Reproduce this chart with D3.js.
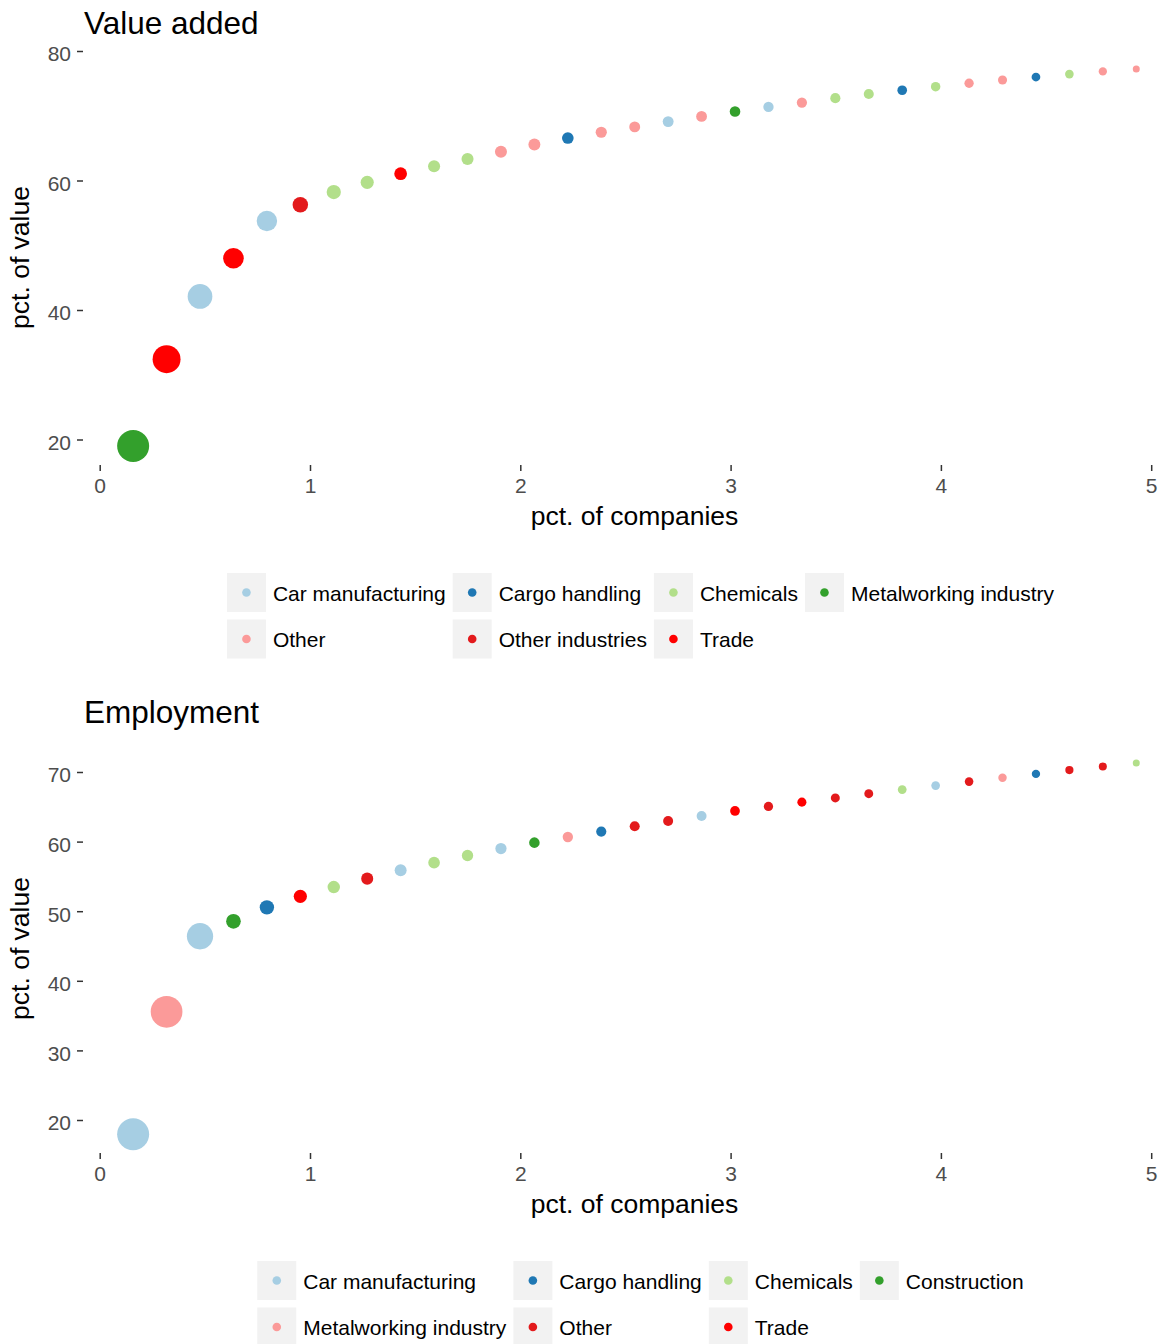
<!DOCTYPE html>
<html>
<head>
<meta charset="utf-8">
<script src="https://cdn.jsdelivr.net/npm/d3@7"></script>
<style>
  html, body { margin: 0; padding: 0; background: #ffffff; }
  svg { display: block; font-family: "Liberation Sans", Arial, sans-serif; }
</style>
</head>
<body>
<svg id="chart" width="1165" height="1344"></svg>
<script>
// ---------- DATA ----------
const pctCompanies = [0.159, 0.318, 0.477, 0.636, 0.795, 0.954, 1.113, 1.272, 1.431, 1.590,
  1.749, 1.908, 2.067, 2.226, 2.385, 2.544, 2.703, 2.862, 3.021, 3.180,
  3.339, 3.498, 3.657, 3.816, 3.975, 4.134, 4.293, 4.452, 4.611, 4.770, 4.929];

// cumulative pct. of value added
const valueAddedCum = [19.0, 32.4, 42.1, 48.0, 53.75, 56.27, 58.22, 59.72, 61.06, 62.2,
  63.33, 64.45, 65.55, 66.56, 67.45, 68.28, 69.1, 69.9, 70.66, 71.36,
  72.04, 72.71, 73.36, 73.94, 74.49, 75.02, 75.52, 75.98, 76.43, 76.85, 77.22];
const valueAddedSector = ["Metalworking industry", "Trade", "Car manufacturing", "Trade", "Car manufacturing",
  "Other industries", "Chemicals", "Chemicals", "Trade", "Chemicals",
  "Chemicals", "Other", "Other", "Cargo handling", "Other",
  "Other", "Car manufacturing", "Other", "Metalworking industry", "Car manufacturing",
  "Other", "Chemicals", "Chemicals", "Cargo handling", "Chemicals",
  "Other", "Other", "Cargo handling", "Chemicals", "Other", "Other"];
const valueAddedLegend = ["Car manufacturing", "Cargo handling", "Chemicals", "Metalworking industry",
  "Other", "Other industries", "Trade"];
const valueAddedYTicks = [20, 40, 60, 80];

// cumulative pct. of employment
const employmentCum = [17.95, 35.54, 46.4, 48.55, 50.56, 52.14, 53.47, 54.68, 55.87, 56.97,
  58.0, 59.0, 59.85, 60.66, 61.44, 62.2, 62.95, 63.69, 64.4, 65.05,
  65.67, 66.28, 66.88, 67.47, 68.05, 68.62, 69.18, 69.73, 70.27, 70.8, 71.3];
const employmentSector = ["Car manufacturing", "Metalworking industry", "Car manufacturing", "Construction", "Cargo handling",
  "Trade", "Chemicals", "Other", "Car manufacturing", "Chemicals",
  "Chemicals", "Car manufacturing", "Construction", "Metalworking industry", "Cargo handling",
  "Other", "Other", "Car manufacturing", "Trade", "Other",
  "Trade", "Other", "Other", "Chemicals", "Car manufacturing",
  "Other", "Metalworking industry", "Cargo handling", "Other", "Other", "Chemicals"];
const employmentLegend = ["Car manufacturing", "Cargo handling", "Chemicals", "Construction",
  "Metalworking industry", "Other", "Trade"];
const employmentYTicks = [20, 30, 40, 50, 60, 70];

const xTicks = [0, 1, 2, 3, 4, 5];

// ---------- STYLE ----------
const palette = ["#A6CEE3", "#1F78B4", "#B2DF8A", "#33A02C", "#FB9A99", "#E31A1C", "#FF0000"];

const svg = d3.select("#chart");
const x = d3.scaleLinear().domain([0, 5]).range([99.7, 1151.2]);

function panel(cfg) {
  const g = svg.append("g");
  const y = d3.scaleLinear().domain(cfg.yDomain).range(cfg.yRange);
  const color = d3.scaleOrdinal().domain(cfg.legend).range(palette);

  // share of each company = increment of cumulative curve
  const data = cfg.cum.map((v, i) => ({
    x: pctCompanies[i], y: v,
    share: v - (i === 0 ? 0 : cfg.cum[i - 1]),
    sector: cfg.sector[i]
  }));
  const norm = d3.scaleLinear().domain(d3.extent(data, d => d.share)).range([0, 1]);
  const rScale = d3.scaleLinear().domain([0, 1]).range([3.5, 16]);

  // title
  g.append("text").attr("x", 84).attr("y", cfg.titleY)
    .attr("font-size", 31.5).attr("fill", "#000").text(cfg.title);

  // axes
  const xAxis = d3.axisBottom(x).tickValues(xTicks).tickSize(6).tickPadding(7).tickFormat(d3.format("d"));
  const gx = g.append("g").attr("transform", `translate(0,${cfg.panelBottom})`).call(xAxis);
  const yAxis = d3.axisLeft(y).tickValues(cfg.yTicks).tickSize(6).tickPadding(6).tickFormat(d3.format("d"));
  const gy = g.append("g").attr("transform", `translate(83,0)`).call(yAxis);
  [gx, gy].forEach(a => {
    a.select(".domain").remove();
    a.selectAll(".tick line").attr("stroke", "#333333").attr("stroke-width", 1.5);
    a.selectAll(".tick text").attr("fill", "#4D4D4D").attr("font-size", 21)
      .attr("font-family", "Liberation Sans, Arial, sans-serif");
  });
  gy.selectAll(".tick text").attr("dy", "0.47em");

  // axis titles
  g.append("text").attr("x", 634.5).attr("y", cfg.xTitleY).attr("text-anchor", "middle")
    .attr("font-size", 26.5).attr("fill", "#000").text("pct. of companies");
  g.append("text").attr("transform", `translate(29,${cfg.yTitleCenter}) rotate(-90)`)
    .attr("text-anchor", "middle").attr("font-size", 26.5).attr("fill", "#000").text("pct. of value");

  // points
  g.append("g").selectAll("circle").data(data).join("circle")
    .attr("cx", d => x(d.x)).attr("cy", d => y(d.y))
    .attr("r", d => rScale(Math.sqrt(norm(d.share))))
    .attr("fill", d => color(d.sector));

  // legend
  const lg = g.append("g");
  const ncol = 4, key = 39, gap = 7, rowStep = 46.5;
  const items = cfg.legend.map((name, i) => ({ name, row: Math.floor(i / ncol), col: i % ncol }));
  const texts = items.map(it => lg.append("text").attr("font-size", 21).attr("fill", "#000").text(it.name));
  const widths = texts.map(t => t.node().getComputedTextLength());
  const colW = d3.range(ncol).map(c => d3.max(items.filter(it => it.col === c), (it) => widths[items.indexOf(it)]));
  const total = d3.sum(colW, w => key + gap + w) + gap * (ncol - 1);
  const colX = [];
  let cx = 640.5 - total / 2;
  colW.forEach(w => { colX.push(cx); cx += key + gap + w + gap; });
  items.forEach((it, i) => {
    const kx = colX[it.col], ky = cfg.legendTop + it.row * rowStep;
    lg.append("rect").attr("x", kx).attr("y", ky).attr("width", key).attr("height", key).attr("fill", "#F2F2F2");
    lg.append("circle").attr("cx", kx + key / 2).attr("cy", ky + key / 2).attr("r", 4.3).attr("fill", color(it.name));
    texts[i].attr("x", kx + key + gap).attr("y", ky + 27.7);
  });
}

panel({
  title: "Value added", titleY: 34.3,
  cum: valueAddedCum, sector: valueAddedSector, legend: valueAddedLegend,
  yDomain: [20, 80], yRange: [439.5, 51], yTicks: valueAddedYTicks,
  panelBottom: 465, xTitleY: 525, yTitleCenter: 257.5, legendTop: 573
});
panel({
  title: "Employment", titleY: 723.3,
  cum: employmentCum, sector: employmentSector, legend: employmentLegend,
  yDomain: [20, 70], yRange: [1120, 772], yTicks: employmentYTicks,
  panelBottom: 1153, xTitleY: 1213, yTitleCenter: 948.5, legendTop: 1261
});
</script>
</body>
</html>
